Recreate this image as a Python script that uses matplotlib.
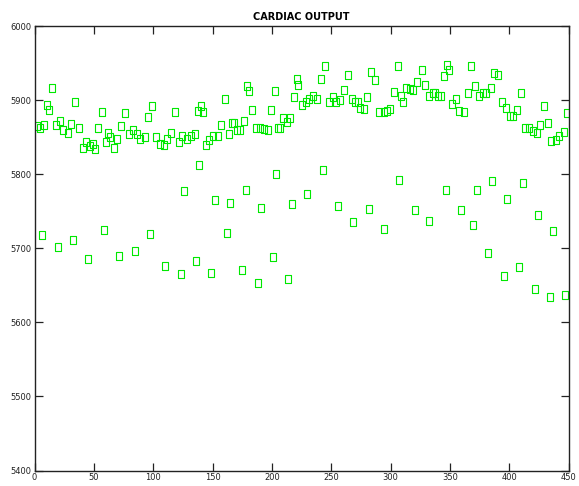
import numpy as np
import matplotlib
matplotlib.use('Agg')
import matplotlib.pyplot as plt

# upper band (dense series)
x_upper = [1.9, 4.9, 8.3, 10.5, 12.2, 15.0, 17.9, 21.7, 24.3, 28.0,
           31.0, 34.4, 37.2, 40.6, 43.8, 47.0, 49.5, 51.0, 53.7, 56.9,
           60.2, 62.2, 63.6, 67.0, 69.8, 72.6, 76.5, 79.6, 82.7, 86.2,
           88.9, 92.8, 96.0, 99.2, 102.1, 106.0, 108.8, 112.0, 115.0, 118.6,
           122.0, 124.5, 128.1, 131.7, 135.0, 137.5, 140.4, 141.8, 144.7, 147.2,
           150.4, 154.3, 157.4, 160.7, 163.6, 166.6, 168.1, 170.9, 173.5, 176.3,
           179.2, 180.5, 183.4, 186.6, 189.6, 193.3, 196.7, 199.5, 202.4, 205.4,
           206.6, 209.2, 212.5, 215.7, 218.9, 220.9, 222.4, 225.4, 228.5, 231.4,
           234.9, 238.2, 241.2, 245.0, 247.9, 251.2, 254.3, 257.5, 260.9, 264.4,
           267.2, 270.0, 272.5, 274.2, 277.3, 280.1, 283.7, 286.6, 290.7, 294.3,
           296.7, 299.9, 303.3, 306.2, 309.0, 310.3, 313.0, 316.0, 319.3, 322.5,
           326.2, 329.1, 332.2, 335.5, 337.6, 340.2, 342.2, 345.0, 347.8, 349.2,
           352.0, 355.1, 358.0, 362.3, 365.2, 367.9, 370.9, 374.5, 377.6, 380.6,
           384.3, 387.1, 390.9, 394.1, 397.0, 400.3, 403.5, 406.7, 409.6, 413.1,
           416.4, 419.7, 423.2, 426.1, 429.4, 432.9, 435.4, 439.3, 442.1, 445.8,
           448.8]
y_upper = [5865, 5863, 5866, 5894, 5887, 5916, 5867, 5872, 5859, 5855,
           5868, 5898, 5863, 5836, 5844, 5838, 5841, 5834, 5863, 5884,
           5844, 5856, 5850, 5836, 5848, 5865, 5883, 5854, 5860, 5854,
           5848, 5850, 5877, 5892, 5850, 5841, 5839, 5847, 5855, 5884,
           5844, 5852, 5847, 5852, 5854, 5885, 5892, 5884, 5839, 5846,
           5852, 5851, 5867, 5901, 5854, 5869, 5869, 5860, 5860, 5872,
           5919, 5912, 5887, 5862, 5862, 5861, 5859, 5887, 5912, 5863,
           5863, 5876, 5870, 5876, 5904, 5929, 5921, 5894, 5897, 5901,
           5906, 5901, 5928, 5946, 5898, 5904, 5898, 5900, 5913, 5934,
           5901, 5897, 5897, 5890, 5888, 5904, 5938, 5927, 5884, 5884,
           5885, 5888, 5911, 5946, 5906, 5898, 5917, 5915, 5913, 5925,
           5941, 5921, 5906, 5910, 5910, 5906, 5906, 5932, 5947, 5941,
           5895, 5901, 5885, 5884, 5910, 5946, 5919, 5906, 5909, 5909,
           5917, 5937, 5934, 5897, 5889, 5879, 5879, 5887, 5910, 5863,
           5863, 5858, 5856, 5867, 5892, 5869, 5845, 5846, 5852, 5857,
           5882]

# lower band (sparse series)
x_lower = [6.3, 19.8, 32.4, 45.1, 58.6, 71.2, 84.7, 97.3, 110.1, 123.4,
           125.9, 136.0, 138.6, 148.7, 152.0, 162.2, 164.7, 174.8, 178.2, 188.3,
           190.8, 200.9, 203.4, 213.6, 216.9, 229.6, 243.1, 255.7, 268.3, 281.8,
           294.4, 307.1, 320.6, 332.4, 346.7, 359.4, 369.5, 372.9, 382.1, 385.5,
           395.6, 398.1, 408.2, 411.6, 421.7, 424.3, 434.4, 436.9, 447.0]
y_lower = [5718, 5702, 5711, 5686, 5725, 5690, 5696, 5719, 5676, 5665,
           5777, 5683, 5812, 5667, 5765, 5721, 5761, 5671, 5779, 5653,
           5754, 5688, 5800, 5659, 5760, 5773, 5806, 5757, 5735, 5753,
           5726, 5792, 5752, 5737, 5779, 5752, 5731, 5779, 5694, 5791,
           5663, 5767, 5675, 5788, 5645, 5745, 5634, 5723, 5637]

x_ticks = [0, 50, 100, 150, 200, 250, 300, 350, 400, 450]
y_ticks = [5400, 5500, 5600, 5700, 5800, 5900, 6000]


def main():
    fig = plt.figure(figsize=(5.79, 4.86), dpi=100)
    ax = fig.add_axes([0.0596, 0.0317, 0.9223, 0.9148])

    # narrow hollow rectangle like the original markers
    rect = [(-0.36, -0.5), (0.36, -0.5), (0.36, 0.5), (-0.36, 0.5), (-0.36, -0.5)]
    for xs, ys in [(x_upper, y_upper), (x_lower, y_lower)]:
        ax.plot(xs, ys, linestyle='none', marker=rect, markersize=6,
                markerfacecolor='none', markeredgecolor='#00e800',
                markeredgewidth=0.8)

    ax.set_xlim(0, 450)
    ax.set_ylim(5400, 6000)
    ax.set_xticks(x_ticks)
    ax.set_yticks(y_ticks)
    ax.tick_params(direction='in', length=5.5, width=0.9, top=True, right=True,
                   labelsize=6, pad=2, colors='#222222')
    for sp in ax.spines.values():
        sp.set_linewidth(1.0)
        sp.set_color('#222222')
    ax.set_title('CARDIAC OUTPUT', fontsize=7, fontweight='bold', pad=4)

    fig.savefig('out.png', dpi=100)


if __name__ == '__main__':
    main()
